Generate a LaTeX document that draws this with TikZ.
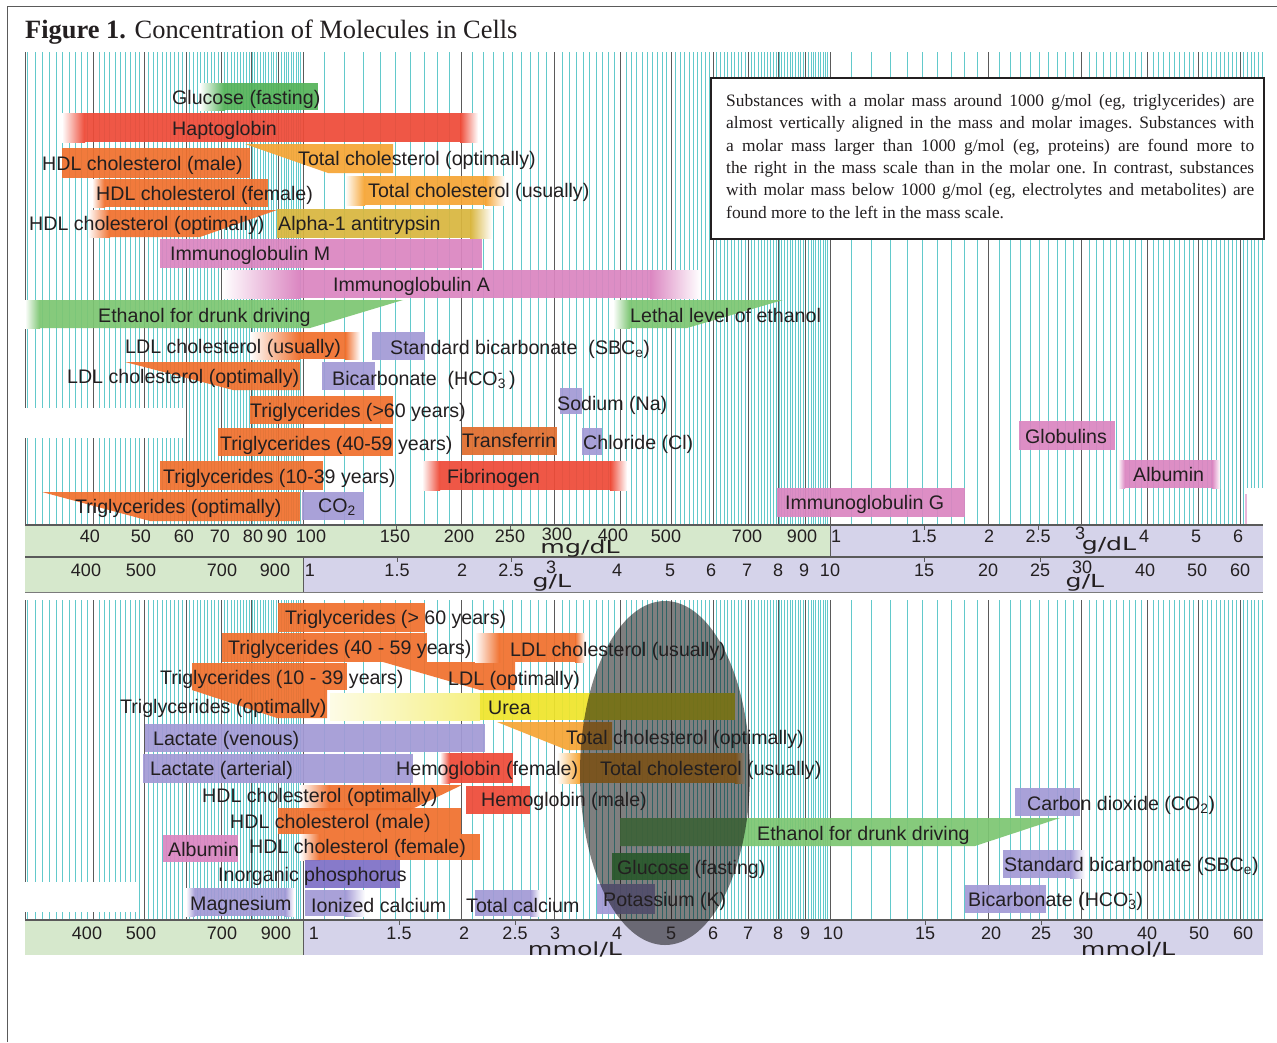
\documentclass[tikz,border=0pt]{standalone}
\usepackage{fontspec}
\setmainfont{Liberation Serif}
\newfontfamily\labfont{Liberation Sans}
\newfontfamily\unitfont{DejaVu Sans}
\definecolor{gridc}{HTML}{62C9CB}
\definecolor{gdark}{HTML}{5A5A5A}
\definecolor{txt}{HTML}{231F20}
\definecolor{orng}{HTML}{F0702E}
\definecolor{lorng}{HTML}{F6A535}
\definecolor{redc}{HTML}{EE4B38}
\definecolor{pinkc}{HTML}{DB86C1}
\definecolor{lavc}{HTML}{A39AD6}
\definecolor{lavd}{HTML}{7E70C6}
\definecolor{greenc}{HTML}{55B35A}
\definecolor{lgreen}{HTML}{7DC673}
\definecolor{olive}{HTML}{D9B63F}
\definecolor{yel}{HTML}{EFE52C}
\definecolor{trf}{HTML}{E06D2E}
\definecolor{bandg}{HTML}{D6E8CC}
\definecolor{bandl}{HTML}{D5D3EA}
\tikzset{
  gline/.style={draw=gridc, line width=0.8pt},
  dline/.style={draw=gdark, line width=1pt},
  lab/.style={font=\labfont\fontsize{19.6}{19.6}\selectfont, inner sep=0pt, anchor=base west, text=txt},
  ax/.style={font=\labfont\fontsize{18}{18}\selectfont, inner sep=0pt, anchor=base, text=txt},
  unitlab/.style={font=\unitfont\fontsize{18}{18}\selectfont, inner sep=0pt, anchor=center, text=txt},
  barf/.style={fill=#1, fill opacity=0.93},
}
\newcommand\Lbl[4]{\node[lab] (#1) at (#2,#3+7) {#4};}
\newcommand\FadeL[5]{\shade[left color=white, right color=#5] (#1,#2) rectangle (#3,#4);}
\newcommand\FadeR[5]{\shade[left color=#5, right color=white] (#1,#2) rectangle (#3,#4);}
\begin{document}
\begin{tikzpicture}[x=1pt,y=-1pt]
\useasboundingbox (0,0) rectangle (1277,1042);
\fill[white] (0,0) rectangle (1277,1042);
\draw[gdark, line width=1pt] (7,1042) -- (7,6) -- (1277,6);
% title
\node[font=\fontsize{26.4}{27}\selectfont, inner sep=0pt, anchor=base west, text=txt] (title) at (25,38) {\textbf{Figure 1.} Concentration of Molecules in Cells};
% grid
\foreach \v in {30,...,100}{\pgfmathsetmacro\xx{303+527*log10(\v/100)}
  \draw[gline] (\xx,52) -- (\xx,525) (\xx,600) -- (\xx,920);}
\foreach \v in {110,120,...,1000}{\pgfmathsetmacro\xx{303+527*log10(\v/100)}
  \draw[gline] (\xx,52) -- (\xx,525) (\xx,600) -- (\xx,920);}
\foreach \v in {1100,1200,...,6600}{\pgfmathsetmacro\xx{303+527*log10(\v/100)}
  \draw[gline] (\xx,52) -- (\xx,525) (\xx,600) -- (\xx,920);}
\foreach \v in {40,50,60,70,80,90,100,200,300,400,500,600,700,800,900,1000,2000,3000,4000,5000,6000}{\pgfmathsetmacro\xx{303+527*log10(\v/100)}
  \draw[dline] (\xx,52) -- (\xx,525) (\xx,600) -- (\xx,920);}
\draw[dline] (25,52) -- (25,525) (25,600) -- (25,920);
% white patches
\fill[white] (25,408) rectangle (183,438);
\fill[white] (25,882) rectangle (137,912);
\fill[white] (1245,488) rectangle (1263,525);
\draw[pinkc!60, line width=1.5pt] (1246,494) -- (1246,525);
% ---------- top panel bars ----------
\fill[barf=greenc] (225,83) rectangle (318,110); \FadeL{200}{83}{225}{110}{greenc}
\fill[barf=redc] (85,113) rectangle (460,142); \FadeL{62}{113}{85}{142}{redc} \FadeR{460}{113}{478}{142}{redc}
\fill[barf=orng] (62,148) rectangle (250,178);
\fill[barf=lorng] (245,144) -- (393,144) -- (393,173) -- (328,173) -- cycle;
\fill[barf=orng] (105,179) rectangle (268,207); \FadeL{92}{179}{105}{207}{orng}
\fill[barf=lorng] (365,176) rectangle (485,205); \FadeL{345}{176}{365}{205}{lorng} \FadeR{485}{176}{505}{205}{lorng}
\fill[barf=orng] (110,210) -- (277,210) -- (200,237) -- (110,237) -- cycle; \FadeL{88}{210}{110}{237}{orng}
\fill[barf=olive] (277,209) rectangle (470,238); \FadeR{470}{209}{492}{238}{olive}
\fill[barf=pinkc] (160,239) rectangle (482,268);
\fill[barf=pinkc] (300,270) rectangle (650,298); \FadeL{222}{270}{300}{298}{pinkc} \FadeR{650}{270}{700}{298}{pinkc}
\fill[barf=lgreen] (40,300) -- (403,300) -- (310,328) -- (40,328) -- cycle; \FadeL{25}{300}{40}{328}{lgreen}
\fill[barf=lgreen] (630,300) -- (783,300) -- (687,328) -- (630,328) -- cycle; \FadeL{613}{300}{630}{328}{lgreen}
\fill[barf=orng] (300,332) rectangle (345,359); \FadeL{250}{332}{300}{359}{orng} \FadeR{345}{332}{360}{359}{orng}
\fill[barf=lavc] (372,332) rectangle (425,360);
\fill[barf=orng] (125,362) -- (300,362) -- (300,390) -- (233,390) -- cycle;
\fill[barf=lavc] (322,362) rectangle (375,390);
\fill[barf=orng] (250,396) rectangle (393,424);
\fill[barf=lavc] (560,388) rectangle (582,414);
\fill[barf=orng] (218,428) rectangle (393,456);
\fill[barf=trf] (462,427) rectangle (557,455);
\fill[barf=lavc] (582,428) rectangle (602,455);
\fill[barf=orng] (160,461) rectangle (323,490);
\fill[barf=redc] (440,461) rectangle (610,490); \FadeL{422}{461}{440}{490}{redc} \FadeR{610}{461}{627}{490}{redc}
\fill[barf=orng] (42,492) -- (300,492) -- (300,521) -- (150,521) -- cycle;
\fill[barf=lavc] (302,492) rectangle (364,520);
\fill[barf=pinkc] (777,488) rectangle (965,517);
\fill[barf=pinkc] (1019,421) rectangle (1115,450);
\fill[barf=pinkc] (1125,460) rectangle (1212,488); \FadeL{1118}{460}{1125}{488}{pinkc} \FadeR{1212}{460}{1220}{488}{pinkc}
% ---------- bottom panel bars ----------
\fill[barf=orng] (278,603) rectangle (425,632);
\fill[barf=orng] (222,633) rectangle (427,662);
\fill[barf=orng] (192,663) rectangle (347,690);
\fill[barf=orng] (383,662) -- (515,662) -- (515,690) -- (480,690) -- cycle;
\fill[barf=orng] (500,633) rectangle (575,662); \FadeL{475}{633}{500}{662}{orng} \FadeR{575}{633}{585}{662}{orng}
\fill[barf=orng] (192,690) -- (327,690) -- (327,718) -- (277,718) -- cycle;
\shade[left color=yel!12, right color=yel!60] (330,693) rectangle (480,720);
\fill[barf=yel] (480,693) rectangle (735,720);
\fill[barf=lavc] (145,724) rectangle (485,752);
\fill[barf=lavc] (143,754) rectangle (413,783);
\fill[barf=lorng] (497,722) -- (612,722) -- (612,750) -- (567,750) -- cycle;
\fill[barf=redc] (450,753) rectangle (513,783); \FadeL{440}{753}{450}{783}{redc}
\fill[barf=lorng] (580,753) rectangle (735,783); \FadeL{557}{753}{580}{783}{lorng} \FadeR{735}{753}{745}{783}{lorng}
\fill[barf=orng] (330,785) -- (462,785) -- (410,810) -- (330,810) -- cycle; \FadeL{300}{785}{330}{810}{orng}
\fill[barf=redc] (466,786) rectangle (530,814);
\fill[barf=orng] (278,808) rectangle (461,834);
\fill[barf=pinkc] (163,835) rectangle (238,862);
\fill[barf=orng] (320,834) rectangle (480,860); \FadeL{300}{834}{320}{860}{orng}
\fill[barf=lavd] (305,860) rectangle (400,888);
\fill[barf=lavc] (195,888) rectangle (285,916); \FadeL{186}{888}{195}{916}{lavc} \FadeR{285}{888}{294}{916}{lavc}
\fill[barf=lavc] (305,890) rectangle (345,916); \FadeR{345}{890}{365}{916}{lavc}
\fill[barf=lavc] (475,890) rectangle (530,916); \FadeR{530}{890}{540}{916}{lavc}
\fill[barf=greenc] (612,853) rectangle (690,880);
\fill[barf=lavc] (597,884) rectangle (655,914);
\fill[barf=lgreen] (620,818) -- (1060,818) -- (975,846) -- (620,846) -- cycle;
\fill[barf=lavc] (1015,788) rectangle (1080,816);
\fill[barf=lavc] (1003,850) rectangle (1070,878); \FadeR{1070}{850}{1085}{878}{lavc}
\fill[barf=lavc] (965,885) rectangle (1046,913);
% ---------- axis bands ----------
\fill[bandg] (25,525) rectangle (830,557);
\fill[bandl] (830,525) rectangle (1263,557);
\fill[bandg] (25,557) rectangle (303,592);
\fill[bandl] (303,557) rectangle (1263,592);
\draw[gdark, line width=1.2pt] (25,525) -- (1263,525) (25,557) -- (1263,557);
\draw[gdark!80, line width=1pt] (25,592) -- (1263,592);
\draw[gdark, line width=1pt] (830,525) -- (830,557) (303,557) -- (303,592);
\fill[bandg] (25,920) rectangle (303,955);
\fill[bandl] (303,920) rectangle (1263,955);
\draw[gdark, line width=1.2pt] (25,920) -- (1263,920);
\draw[gdark, line width=1pt] (303,920) -- (303,955);
\foreach \x in {396,510,924,1038}{\draw[gdark] (\x,525) -- (\x,530);}
\foreach \x in {397,511,924,1040}{\draw[gdark] (\x,557) -- (\x,562);}
\foreach \x in {399,515,925,1041}{\draw[gdark] (\x,920) -- (\x,925);}
% ---------- ellipse ----------
\fill[black, opacity=0.5] (665,773) ellipse [x radius=85, y radius=172];
% ---------- note box ----------
\node[draw=txt, line width=1.6pt, fill=white, minimum width=553pt, minimum height=161pt, inner sep=0pt, anchor=north west] (note) at (710,77) {};
\node[font=\fontsize{17.4}{22.4}\selectfont\frenchspacing, text width=528pt, align=justify, inner sep=0pt, anchor=north west, text=txt] (notetext) at (726,94) {Substances with a molar mass around 1000 g/mol (eg, triglycerides) are\linebreak almost vertically aligned in the mass and molar images. Substances with\linebreak a molar mass larger than 1000 g/mol (eg, proteins) are found more to\linebreak the right in the mass scale than in the molar one. In contrast, substances\linebreak with molar mass below 1000 g/mol (eg, electrolytes and metabolites) are\linebreak found more to the left in the mass scale.};
% ---------- top labels ----------
\Lbl{glucT}{172}{97}{Glucose (fasting)}
\Lbl{haptoT}{172}{128}{Haptoglobin}
\Lbl{hdlmT}{42}{163}{HDL cholesterol (male)}
\Lbl{tcoT}{298}{158}{Total cholesterol (optimally)}
\Lbl{hdlfT}{96}{193}{HDL cholesterol (female)}
\Lbl{tcuT}{368}{190}{Total cholesterol (usually)}
\Lbl{hdloT}{29}{223}{HDL cholesterol (optimally)}
\Lbl{a1aT}{278}{223}{Alpha-1 antitrypsin}
\Lbl{igmT}{170}{253}{Immunoglobulin M}
\Lbl{igaT}{333}{284}{Immunoglobulin A}
\Lbl{ethT}{98}{315}{Ethanol for drunk driving}
\Lbl{lethT}{630}{315}{Lethal level of ethanol}
\Lbl{ldluT}{125}{346}{LDL cholesterol (usually)}
\Lbl{sbcT}{390}{347}{Standard bicarbonate\ \ (SBC\textsubscript{e})}
\Lbl{ldloT}{67}{376}{LDL cholesterol (optimally)}
\Lbl{bicT}{332}{378}{Bicarbonate\ \ (HCO\rlap{\textsuperscript{-}}\textsubscript{3}\,)}
\Lbl{tg60T}{250}{410}{Triglycerides (>60 years)}
\Lbl{naT}{557}{403}{Sodium (Na)}
\Lbl{tg40T}{220}{443}{Triglycerides (40-59 years)}
\Lbl{trfT}{462}{440}{Transferrin}
\Lbl{clT}{583}{442}{Chloride (Cl)}
\Lbl{tg10T}{163}{476}{Triglycerides (10-39 years)}
\Lbl{fibT}{447}{476}{Fibrinogen}
\Lbl{tgoT}{75}{506}{Triglycerides (optimally)}
\Lbl{co2T}{318}{505}{CO\textsubscript{2}}
\Lbl{iggT}{785}{502}{Immunoglobulin G}
\Lbl{globT}{1025}{436}{Globulins}
\Lbl{albT}{1133}{474}{Albumin}
% ---------- bottom labels ----------
\Lbl{btgsixT}{285}{617}{Triglycerides (> 60 years)}
\Lbl{btgfourT}{228}{647}{Triglycerides (40 - 59 years)}
\Lbl{bldluT}{510}{649}{LDL cholesterol (usually)}
\Lbl{btgoneT}{160}{677}{Triglycerides (10 - 39 years)}
\Lbl{bldloT}{448}{678}{LDL (optimally)}
\Lbl{btgoT}{120}{706}{Triglycerides (optimally)}
\Lbl{ureaT}{488}{707}{Urea}
\Lbl{lacvT}{153}{738}{Lactate (venous)}
\Lbl{btcoT}{566}{737}{Total cholesterol (optimally)}
\Lbl{lacaT}{150}{768}{Lactate (arterial)}
\Lbl{hbfT}{396}{768}{Hemoglobin (female)}
\Lbl{btcuT}{600}{768}{Total cholesterol (usually)}
\Lbl{bhdloT}{202}{795}{HDL cholesterol (optimally)}
\Lbl{hbmT}{481}{799}{Hemoglobin (male)}
\Lbl{bhdlmT}{230}{821}{HDL cholesterol (male)}
\Lbl{bcotwoT}{1027}{803}{Carbon dioxide (CO\textsubscript{2})}
\Lbl{bethT}{757}{833}{Ethanol for drunk driving}
\Lbl{balbT}{168}{849}{Albumin}
\Lbl{bhdlfT}{249}{846}{HDL cholesterol (female)}
\Lbl{bsbcT}{1004}{864}{Standard bicarbonate (SBC\textsubscript{e})}
\Lbl{bglucT}{617}{867}{Glucose (fasting)}
\Lbl{phosT}{218}{874}{Inorganic phosphorus}
\Lbl{kT}{603}{899}{Potassium (K)}
\Lbl{bbicT}{968}{899}{Bicarbonate (HCO\rlap{\textsuperscript{-}}\textsubscript{3})}
\Lbl{mgT}{190}{903}{Magnesium}
\Lbl{icaT}{311}{905}{Ionized calcium}
\Lbl{tcaT}{466}{905}{Total calcium}
% ---------- axis labels ----------
\foreach \t/\x/\y [count=\i] in {40/90/536,50/141/536,60/184/536,70/220/536,80/253/536,90/277/536,100/311/536,150/395/536,200/459/536,250/510/536,300/557/534,400/613/535,500/666/536,700/747/536,900/802/536,1/836/536,1.5/924/536,2/989/536,2.5/1038/536,3/1080/533,4/1144/536,5/1196/536,6/1238/536}
  {\node[ax] (ra\i) at (\x,\y+6.5) {\t};}
\foreach \t/\x/\y [count=\i] in {400/86/570,500/141/570,700/222/570,900/275/570,1/310/570,1.5/397/570,2/462/570,2.5/511/570,3/551/567,4/617/570,5/670/570,6/711/570,7/747/570,8/778/570,9/804/570,10/830/570,15/924/570,20/988/570,25/1040/570,30/1082/567,40/1145/570,50/1197/570,60/1240/570}
  {\node[ax] (rb\i) at (\x,\y+6.5) {\t};}
\foreach \t/\x [count=\i] in {400/87,500/141,700/222,900/276,1/314,1.5/399,2/464,2.5/515,3/555,4/617,5/671,6/713,7/748,8/778,9/805,10/833,15/925,20/991,25/1041,30/1083,40/1147,50/1199,60/1243}
  {\node[ax] (rc\i) at (\x,933+6.5) {\t};}
\node[unitlab] (u1) at (580,549) {\scalebox{1.4}[1]{mg/dL}};
\node[unitlab] (u2) at (1109,546) {\scalebox{1.4}[1]{g/dL}};
\node[unitlab] (u3) at (552,583) {\scalebox{1.4}[1]{g/L}};
\node[unitlab] (u4) at (1085,583) {\scalebox{1.4}[1]{g/L}};
\node[unitlab] (u5) at (575,949) {\scalebox{1.4}[1]{mmol/L}};
\node[unitlab] (u6) at (1128,949) {\scalebox{1.4}[1]{mmol/L}};
\end{tikzpicture}
\end{document}
